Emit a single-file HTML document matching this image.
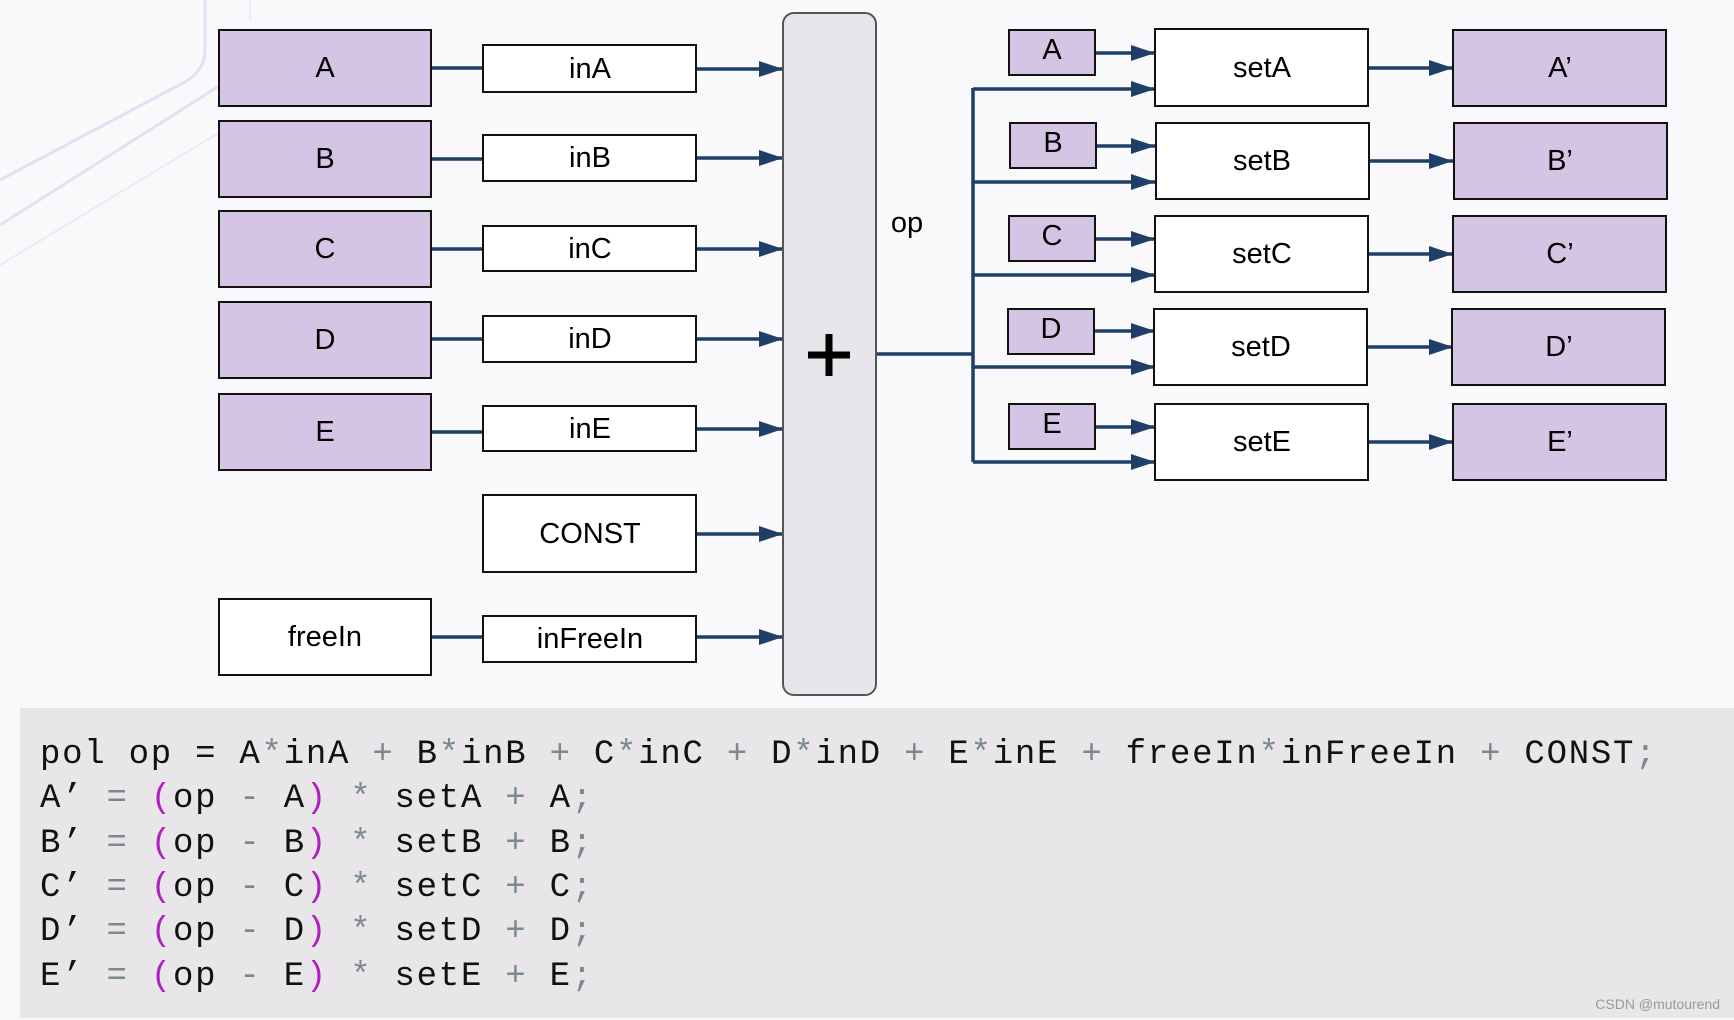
<!DOCTYPE html>
<html><head><meta charset="utf-8"><style>
html,body{margin:0;padding:0;background:#f9f9fb;}
svg{display:block;}
.b{font-family:"Liberation Sans",sans-serif;font-size:29px;fill:#000;text-anchor:middle;dominant-baseline:central;}
.code{font-family:"Liberation Mono",monospace;font-size:34px;fill:#111;letter-spacing:1.75px;}
.g{fill:#7a8a8a}.p{fill:#b020c0}
</style></head><body>
<svg width="1734" height="1020" viewBox="0 0 1734 1020" xmlns="http://www.w3.org/2000/svg">
<defs>
<marker id="a" viewBox="0 0 10 10" refX="10" refY="5" markerWidth="24" markerHeight="16" markerUnits="userSpaceOnUse" orient="auto" preserveAspectRatio="none"><path d="M0,0 L10,5 L0,10z" fill="#1f3f66"/></marker></defs>
<rect width="1734" height="1020" fill="#f9f9fb"/>
<g stroke="#e4e0f4" stroke-width="3" fill="none"><path d="M205,0 V50 Q205,70 185,82 L0,180"/><path d="M0,225 L260,60"/></g>
<g stroke="#ecebf3" stroke-width="2" fill="none"><path d="M250,0 V20"/><path d="M0,265 L240,120"/></g>
<g stroke="#1f3f66" stroke-width="3.5" fill="none">
<path d="M431,68 H483"/><path d="M431,159 H483"/><path d="M431,249 H483"/><path d="M431,339 H483"/><path d="M431,432 H483"/><path d="M431,637 H483"/>
<path d="M696,69 H783" marker-end="url(#a)"/><path d="M696,158 H783" marker-end="url(#a)"/><path d="M696,249 H783" marker-end="url(#a)"/><path d="M696,339 H783" marker-end="url(#a)"/><path d="M696,429 H783" marker-end="url(#a)"/><path d="M696,534 H783" marker-end="url(#a)"/><path d="M696,637 H783" marker-end="url(#a)"/>
<path d="M876,354 H973"/><path d="M973,88 V462"/>
<path d="M973,89 H1155" marker-end="url(#a)"/><path d="M973,182 H1155" marker-end="url(#a)"/><path d="M973,275 H1155" marker-end="url(#a)"/><path d="M973,367 H1155" marker-end="url(#a)"/><path d="M973,462 H1155" marker-end="url(#a)"/>
<path d="M1095,53 H1155" marker-end="url(#a)"/><path d="M1096,146 H1155" marker-end="url(#a)"/><path d="M1095,239 H1155" marker-end="url(#a)"/><path d="M1094,331 H1155" marker-end="url(#a)"/><path d="M1095,427 H1155" marker-end="url(#a)"/>
<path d="M1368,68 H1453" marker-end="url(#a)"/><path d="M1368,161 H1453" marker-end="url(#a)"/><path d="M1368,254 H1453" marker-end="url(#a)"/><path d="M1368,347 H1453" marker-end="url(#a)"/><path d="M1368,442 H1453" marker-end="url(#a)"/>
</g>
<g stroke="#111" stroke-width="2">
<rect x="219" y="30" width="212" height="76" fill="#d3c5e3"/>
<rect x="219" y="121" width="212" height="76" fill="#d3c5e3"/>
<rect x="219" y="211" width="212" height="76" fill="#d3c5e3"/>
<rect x="219" y="302" width="212" height="76" fill="#d3c5e3"/>
<rect x="219" y="394" width="212" height="76" fill="#d3c5e3"/>
<rect x="219" y="599" width="212" height="76" fill="#fff"/>
<rect x="483" y="45" width="213" height="47" fill="#fff"/>
<rect x="483" y="135" width="213" height="46" fill="#fff"/>
<rect x="483" y="226" width="213" height="45" fill="#fff"/>
<rect x="483" y="316" width="213" height="46" fill="#fff"/>
<rect x="483" y="406" width="213" height="45" fill="#fff"/>
<rect x="483" y="495" width="213" height="77" fill="#fff"/>
<rect x="483" y="616" width="213" height="46" fill="#fff"/>
<rect x="1009" y="30" width="86" height="45" fill="#d3c5e3"/>
<rect x="1010" y="123" width="86" height="45" fill="#d3c5e3"/>
<rect x="1009" y="216" width="86" height="45" fill="#d3c5e3"/>
<rect x="1008" y="309" width="86" height="45" fill="#d3c5e3"/>
<rect x="1009" y="404" width="86" height="45" fill="#d3c5e3"/>
<rect x="1155" y="29" width="213" height="77" fill="#fff"/>
<rect x="1156" y="123" width="213" height="76" fill="#fff"/>
<rect x="1155" y="216" width="213" height="76" fill="#fff"/>
<rect x="1154" y="309" width="213" height="76" fill="#fff"/>
<rect x="1155" y="404" width="213" height="76" fill="#fff"/>
<rect x="1453" y="30" width="213" height="76" fill="#d3c5e3"/>
<rect x="1454" y="123" width="213" height="76" fill="#d3c5e3"/>
<rect x="1453" y="216" width="213" height="76" fill="#d3c5e3"/>
<rect x="1452" y="309" width="213" height="76" fill="#d3c5e3"/>
<rect x="1453" y="404" width="213" height="76" fill="#d3c5e3"/>
</g>
<rect x="783" y="13" width="93" height="682" rx="11" fill="#e8e6ea" stroke="#555" stroke-width="2"/>
<path d="M808,355 H850 M829,334 V376" stroke="#000" stroke-width="7"/>
<g class="b">
<text x="325" y="68">A</text><text x="325" y="159">B</text><text x="325" y="249">C</text><text x="325" y="340">D</text><text x="325" y="432">E</text><text x="325" y="637">freeIn</text>
<text x="590" y="69">inA</text><text x="590" y="158">inB</text><text x="590" y="249">inC</text><text x="590" y="339">inD</text><text x="590" y="429">inE</text><text x="590" y="534">CONST</text><text x="590" y="639">inFreeIn</text>
<text x="907" y="223">op</text>
<text x="1052" y="50">A</text><text x="1053" y="143">B</text><text x="1052" y="236">C</text><text x="1051" y="329">D</text><text x="1052" y="424">E</text>
<text x="1262" y="68">setA</text><text x="1262" y="161">setB</text><text x="1262" y="254">setC</text><text x="1261" y="347">setD</text><text x="1262" y="442">setE</text>
<text x="1560" y="68">A’</text><text x="1560" y="161">B’</text><text x="1560" y="254">C’</text><text x="1559" y="347">D’</text><text x="1560" y="442">E’</text>
</g>
<rect x="20" y="708" width="1714" height="310" fill="#e9e6ea"/>
<g class="code">
<text x="40" y="763">pol op = A<tspan class="g">*</tspan>inA <tspan class="g">+</tspan> B<tspan class="g">*</tspan>inB <tspan class="g">+</tspan> C<tspan class="g">*</tspan>inC <tspan class="g">+</tspan> D<tspan class="g">*</tspan>inD <tspan class="g">+</tspan> E<tspan class="g">*</tspan>inE <tspan class="g">+</tspan> freeIn<tspan class="g">*</tspan>inFreeIn <tspan class="g">+</tspan> CONST<tspan class="g">;</tspan></text>
<text x="40" y="807">A’ <tspan class="g">=</tspan> <tspan class="p">(</tspan>op <tspan class="g">-</tspan> A<tspan class="p">)</tspan> <tspan class="g">*</tspan> setA <tspan class="g">+</tspan> A<tspan class="g">;</tspan></text>
<text x="40" y="852">B’ <tspan class="g">=</tspan> <tspan class="p">(</tspan>op <tspan class="g">-</tspan> B<tspan class="p">)</tspan> <tspan class="g">*</tspan> setB <tspan class="g">+</tspan> B<tspan class="g">;</tspan></text>
<text x="40" y="896">C’ <tspan class="g">=</tspan> <tspan class="p">(</tspan>op <tspan class="g">-</tspan> C<tspan class="p">)</tspan> <tspan class="g">*</tspan> setC <tspan class="g">+</tspan> C<tspan class="g">;</tspan></text>
<text x="40" y="940">D’ <tspan class="g">=</tspan> <tspan class="p">(</tspan>op <tspan class="g">-</tspan> D<tspan class="p">)</tspan> <tspan class="g">*</tspan> setD <tspan class="g">+</tspan> D<tspan class="g">;</tspan></text>
<text x="40" y="985">E’ <tspan class="g">=</tspan> <tspan class="p">(</tspan>op <tspan class="g">-</tspan> E<tspan class="p">)</tspan> <tspan class="g">*</tspan> setE <tspan class="g">+</tspan> E<tspan class="g">;</tspan></text>
</g>
<text x="1720" y="1009" text-anchor="end" font-family="Liberation Sans,sans-serif" font-size="14" fill="#999">CSDN @mutourend</text>
</svg>
</body></html>
